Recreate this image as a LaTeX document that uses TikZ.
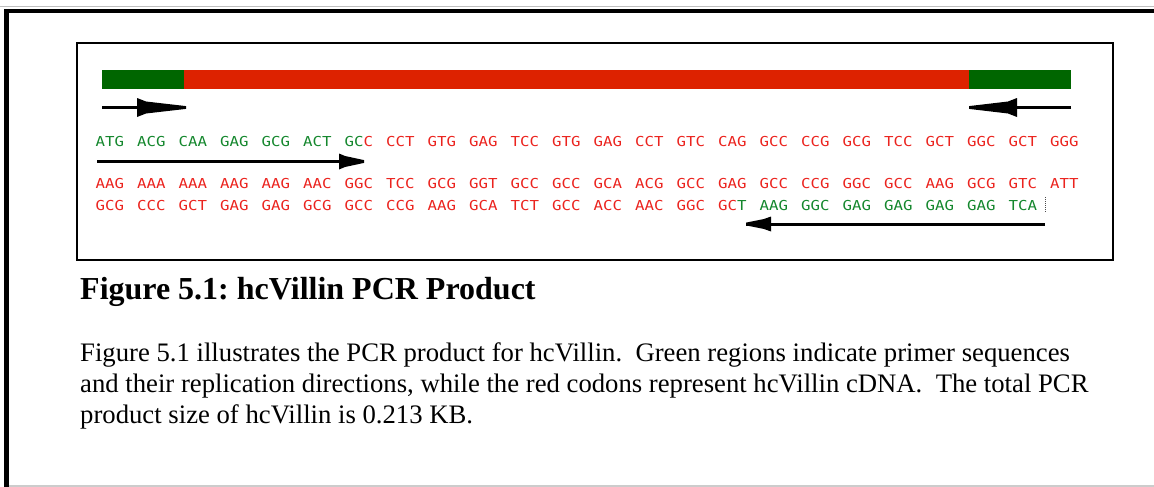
\documentclass[tikz,border=0pt]{standalone}
\usepackage{fontspec}
\setmainfont{Liberation Serif}
\newfontfamily\seqfont[FakeStretch=1.15]{DejaVu Sans Mono}
\definecolor{bgreen}{RGB}{0,102,0}
\definecolor{bred}{RGB}{221,34,0}
\definecolor{tgreen}{RGB}{20,135,45}
\definecolor{tred}{RGB}{235,35,30}
\newcommand\Gc{\color{tgreen}}
\newcommand\Rc{\color{tred}}
\frenchspacing
% #1 tip coordinate, #2 direction, #3 length, #4 shoulder distance, #5 back half height, #6 shoulder half height
\newcommand\arrhead[6]{\fill[shift={(#1)},xscale=#2] (0,-1.4) -- (-#4,-#6) -- (-#3,-#5) -- (-#3,#5) -- (-#4,#6) -- (0,1.4) -- cycle;}
\begin{document}
\begin{tikzpicture}[x=1pt,y=-1pt,
  seq/.style={inner sep=0pt,anchor=base west,font=\seqfont\fontsize{13.7}{16}\selectfont,text=tred},
  arrline/.style={line width=#1},
  body/.style={inner sep=0pt,anchor=base west,font=\fontsize{26.7}{30.7}\selectfont}]
\useasboundingbox (0,0) rectangle (1154,487);
% outer frame
\draw[line width=1pt,black!25] (0,6.5) -- (1154,6.5);
\draw[line width=4pt] (4,11) -- (1154,11);
\draw[line width=5pt] (6.5,9) -- (6.5,487);
\draw[line width=1.5pt,black!20] (9,486) -- (1154,486);
% inner box
\draw[line width=2pt] (77,43) rectangle (1113,260);
% bar
\fill[bgreen] (102,70) rectangle (184,89);
\fill[bred] (184,70) rectangle (969,89);
\fill[bgreen] (969,70) rectangle (1071,89);
% bar arrows
\coordinate (a1s) at (102,107.5);
\coordinate (a1e) at (186,107.5);
\draw[arrline=2.5pt] (a1s) -- (a1e);
\arrhead{a1e}{1}{49}{40}{9.5}{6}
\coordinate (a2s) at (1071,107.5);
\coordinate (a2e) at (969,107.5);
\draw[arrline=2.5pt] (a2s) -- (a2e);
\arrhead{a2e}{-1}{48}{39}{9.5}{6}
% sequence rows
\foreach \c [count=\i from 0] in {{\Gc ATG},{\Gc ACG},{\Gc CAA},{\Gc GAG},{\Gc GCG},{\Gc ACT},{{\Gc GC}C},CCT,GTG,GAG,TCC,GTG,GAG,CCT,GTC,CAG,GCC,CCG,GCG,TCC,GCT,GGC,GCT,GGG}
  \node[seq] (ra\i) at (95.5+\i*41.5,146.7) {\c};
\foreach \c [count=\i from 0] in {AAG,AAA,AAA,AAG,AAG,AAC,GGC,TCC,GCG,GGT,GCC,GCC,GCA,ACG,GCC,GAG,GCC,CCG,GGC,GCC,AAG,GCG,GTC,ATT}
  \node[seq] (rb\i) at (95.5+\i*41.5,188) {\c};
\foreach \c [count=\i from 0] in {GCG,CCC,GCT,GAG,GAG,GCG,GCC,CCG,AAG,GCA,TCT,GCC,ACC,AAC,GGC,{GC{\Gc T}},{\Gc AAG},{\Gc GGC},{\Gc GAG},{\Gc GAG},{\Gc GAG},{\Gc GAG},{\Gc TCA}}
  \node[seq] (rc\i) at (95.5+\i*41.5,210) {\c};
% cursor
\draw[densely dotted,line width=1pt,black!70] (1045,197) -- (1045,212);
% long arrows
\coordinate (b1s) at (97,161.5);
\coordinate (b1e) at (364,161.5);
\draw[arrline=3.5pt] (b1s) -- (b1e);
\arrhead{b1e}{1}{25}{19}{8}{5.5}
\coordinate (b2s) at (1045,224);
\coordinate (b2e) at (746,224);
\draw[arrline=3pt] (b2s) -- (b2e);
\arrhead{b2e}{-1}{25}{18}{7.5}{5}
% caption
\node[inner sep=0pt,anchor=base west,font=\bfseries\fontsize{32}{38}\selectfont] (cap) at (80,299.5) {Figure 5.1: hcVillin PCR Product};
% body text
\node[body] (l1) at (80,361) {Figure 5.1 illustrates the PCR product for hcVillin.\hspace{0.5em}Green regions indicate primer sequences};
\node[body] (l2) at (80,392) {and their replication directions, while the red codons represent hcVillin cDNA.\hspace{0.5em}The total PCR};
\node[body] (l3) at (80,423) {product size of hcVillin is 0.213 KB.};
\end{tikzpicture}
\end{document}
